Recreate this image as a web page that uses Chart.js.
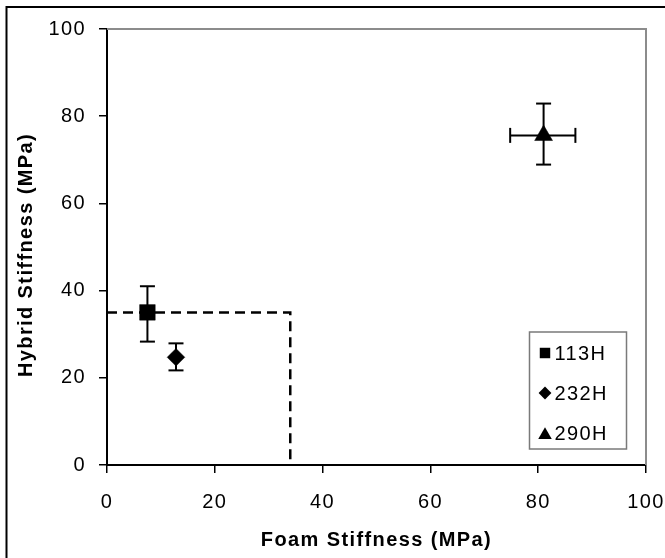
<!DOCTYPE html>
<html>
<head>
<meta charset="utf-8">
<script src="https://cdn.jsdelivr.net/npm/chart.js@4/dist/chart.umd.min.js"></script>
<style>
  html, body { margin: 0; padding: 0; background: #fff; }
  #wrap { position: relative; width: 665px; height: 558px; }
  canvas { display: block; }
</style>
</head>
<body>
<div id="wrap"><canvas id="c" width="665" height="558"></canvas></div>
<script>
// ---- data ----
const seriesLabels   = ['113H', '232H', '290H'];
const seriesMarkers  = ['rect', 'rectRot', 'triangle'];
const foamStiffness  = [7.5, 12.8, 81.0];      // x (MPa)
const hybridStiffness = [35.0, 24.7, 75.6];    // y (MPa)
const xErrMinus = [0, 0, 6.2];
const xErrPlus  = [0, 0, 5.9];
const yErrMinus = [6.7, 3.0, 6.7];
const yErrPlus  = [6.0, 3.2, 7.3];
const thresholdX = [0, 34, 34];                // dashed guide line
const thresholdY = [35, 35, 0];
const axisTicks  = [0, 20, 40, 60, 80, 100];
const xTitle = 'Foam Stiffness (MPa)';
const yTitle = 'Hybrid Stiffness (MPa)';

const FONT = '"Liberation Sans", Arial, Helvetica, sans-serif';
const markerRadius = { rect: 11, rectRot: 8.8, triangle: 10.3 };
const legendRadius = { rect: 7.4, rectRot: 6.4, triangle: 7.8 };

const datasets = [{
  label: 'guide',
  type: 'line',
  data: thresholdX.map((x, i) => ({ x, y: thresholdY[i] })),
  borderColor: '#000',
  borderWidth: 2.5,
  borderDash: [10, 6],
  pointRadius: 0,
  fill: false,
  tension: 0
}];
seriesLabels.forEach((lab, i) => {
  datasets.push({
    label: lab,
    type: 'scatter',
    data: [{ x: foamStiffness[i], y: hybridStiffness[i] }],
    pointStyle: seriesMarkers[i],
    pointRadius: markerRadius[seriesMarkers[i]],
    pointBackgroundColor: '#000',
    pointBorderColor: '#000',
    pointBorderWidth: 0.5
  });
});

const frame = {
  id: 'frame',
  beforeDraw(chart) {
    const ctx = chart.ctx;
    ctx.letterSpacing = '1.4px';
    ctx.save();
    ctx.fillStyle = '#fff';
    ctx.fillRect(0, 0, chart.width, chart.height);
    ctx.strokeStyle = '#000';
    ctx.lineWidth = 2;
    ctx.strokeRect(6.5, 7, chart.width + 20, chart.height + 20);
    ctx.restore();
  },
  beforeDatasetsDraw(chart) {
    const { ctx, chartArea: a } = chart;
    ctx.save();
    ctx.strokeStyle = '#8c8c8c';
    ctx.lineWidth = 2;
    ctx.beginPath();
    ctx.moveTo(a.left, a.top);
    ctx.lineTo(a.right, a.top);
    ctx.lineTo(a.right, a.bottom);
    ctx.stroke();
    ctx.restore();
  },
  afterDraw(chart) {
    // vertical axis title (drawn slightly below centre, as in the reference)
    const { ctx, chartArea: a } = chart;
    ctx.save();
    ctx.translate(26, (a.top + a.bottom) / 2 + 8);
    ctx.rotate(-Math.PI / 2);
    ctx.font = 'bold 20px ' + FONT;
    ctx.fillStyle = '#000';
    ctx.textAlign = 'center';
    ctx.textBaseline = 'middle';
    ctx.fillText(yTitle, 0, 0);
    ctx.restore();
  }
};

const errorBars = {
  id: 'errorBars',
  afterDatasetsDraw(chart) {
    const { ctx, scales: { x, y } } = chart;
    const cap = 7.5;
    ctx.save();
    ctx.strokeStyle = '#000';
    ctx.lineWidth = 2;
    const seg = (x1, y1, x2, y2) => { ctx.beginPath(); ctx.moveTo(x1, y1); ctx.lineTo(x2, y2); ctx.stroke(); };
    seriesLabels.forEach((_, i) => {
      const px = x.getPixelForValue(foamStiffness[i]);
      const py = y.getPixelForValue(hybridStiffness[i]);
      if (yErrPlus[i] || yErrMinus[i]) {
        const yt = y.getPixelForValue(hybridStiffness[i] + yErrPlus[i]);
        const yb = y.getPixelForValue(hybridStiffness[i] - yErrMinus[i]);
        seg(px, yt, px, yb);
        seg(px - cap, yt, px + cap, yt);
        seg(px - cap, yb, px + cap, yb);
      }
      if (xErrPlus[i] || xErrMinus[i]) {
        const xl = x.getPixelForValue(foamStiffness[i] - xErrMinus[i]);
        const xr = x.getPixelForValue(foamStiffness[i] + xErrPlus[i]);
        seg(xl, py, xr, py);
        seg(xl, py - cap, xl, py + cap);
        seg(xr, py - cap, xr, py + cap);
      }
    });
    ctx.restore();
  }
};

const boxLegend = {
  id: 'boxLegend',
  afterDraw(chart) {
    const { ctx, chartArea: a } = chart;
    const w = 97, h = 117;
    const left = a.right - 19.5 - w, top = a.bottom - 16 - h;
    ctx.save();
    ctx.fillStyle = '#fff';
    ctx.fillRect(left, top, w, h);
    ctx.strokeStyle = '#7a7a7a';
    ctx.lineWidth = 1.5;
    ctx.strokeRect(left, top, w, h);
    ctx.font = '20px ' + FONT;
    ctx.fillStyle = '#000';
    ctx.textBaseline = 'middle';
    ctx.textAlign = 'left';
    seriesLabels.forEach((lab, i) => {
      const cy = top + 21 + i * 40;
      const st = seriesMarkers[i];
      const opts = { pointStyle: st, radius: legendRadius[st], rotation: 0, borderWidth: 0 };
      ctx.fillStyle = '#000';
      ctx.strokeStyle = '#000';
      if (Chart.helpers && Chart.helpers.drawPoint) {
        Chart.helpers.drawPoint(ctx, opts, left + 15.5, st === 'triangle' ? cy + 2 : cy);
      }
      ctx.fillText(lab, left + 25, cy + 1);
    });
    ctx.restore();
  }
};

new Chart(document.getElementById('c'), {
  type: 'scatter',
  data: { datasets },
  plugins: [frame, errorBars, boxLegend],
  options: {
    responsive: false,
    animation: false,
    devicePixelRatio: 1,
    font: { family: FONT },
    layout: { padding: { left: 0, top: 29, right: 19, bottom: 0 } },
    plugins: { legend: { display: false }, tooltip: { enabled: false } },
    scales: {
      x: {
        type: 'linear', position: 'bottom', min: 0, max: 100,
        afterBuildTicks(s) { s.ticks = axisTicks.map(v => ({ value: v })); },
        afterFit(s) { s.height = 93; s.paddingLeft = 0; s.paddingRight = 0; },
        border: { display: true, color: '#000', width: 2 },
        grid: { display: true, drawOnChartArea: false, drawTicks: true, tickLength: 8, color: '#000', lineWidth: 1.5 },
        ticks: { color: '#000', font: { family: FONT, size: 20 }, padding: 17, maxRotation: 0 },
        title: { display: true, text: xTitle, color: '#000', font: { family: FONT, size: 20, weight: 'bold' }, padding: { top: 0, bottom: 6 } }
      },
      y: {
        type: 'linear', position: 'left', min: 0, max: 100,
        afterBuildTicks(s) { s.ticks = axisTicks.map(v => ({ value: v })); },
        afterFit(s) { s.width = 107; s.paddingTop = 0; s.paddingBottom = 0; },
        border: { display: true, color: '#000', width: 2 },
        grid: { display: true, drawOnChartArea: false, drawTicks: true, tickLength: 8, color: '#000', lineWidth: 1.5 },
        ticks: { color: '#000', font: { family: FONT, size: 20 }, padding: 13 },
        title: { display: false, text: yTitle }
      }
    }
  }
});
</script>
</body>
</html>
